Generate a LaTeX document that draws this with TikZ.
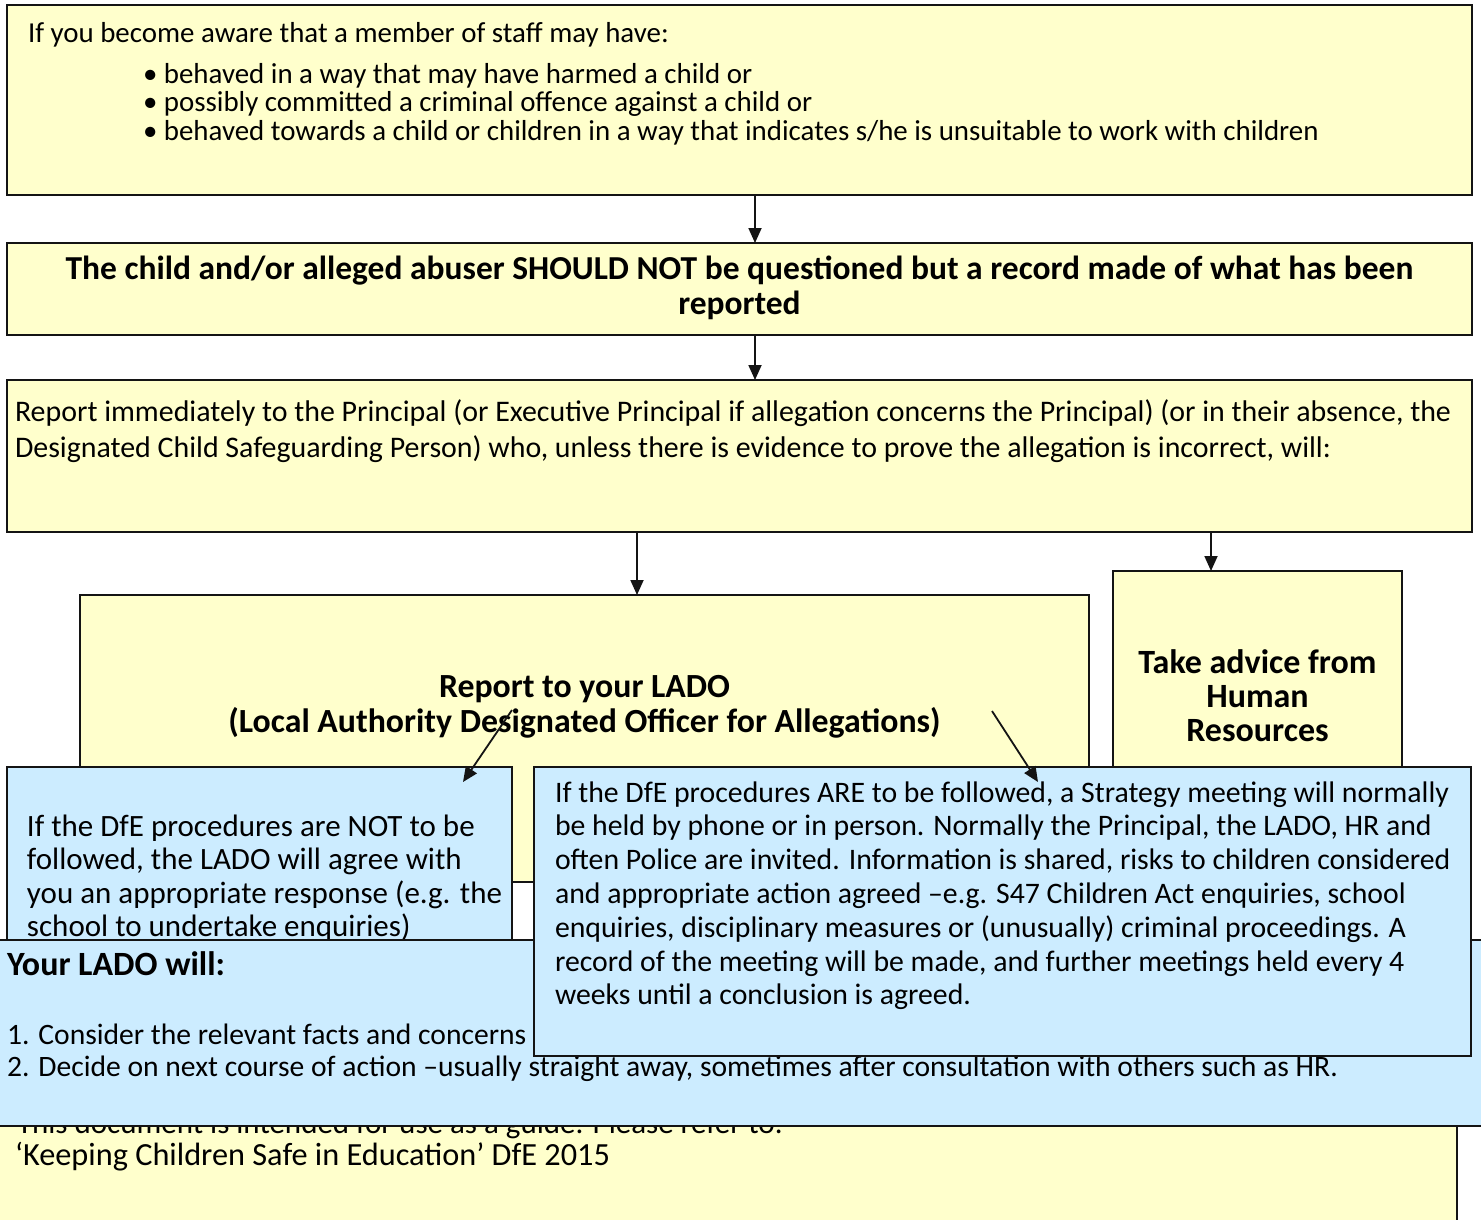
\documentclass[tikz,border=0pt]{standalone}
\usepackage{fontspec}
\setmainfont{Carlito}
\usetikzlibrary{arrows.meta}
\definecolor{yel}{RGB}{255,255,204}
\definecolor{blu}{RGB}{204,236,255}
\definecolor{edge}{RGB}{20,20,20}
\newcommand\LinesL[3]{\vtop{\fontsize{#1}{#2}\selectfont\halign{##\hfil\cr#3\crcr}}}
\newcommand\LinesC[3]{\vtop{\fontsize{#1}{#2}\selectfont\halign{\hfil##\hfil\cr#3\crcr}}}
\begin{document}
\begin{tikzpicture}[x=1pt,y=-1pt,
  box/.style={draw=edge, line width=1.8pt, inner sep=0pt, outer sep=0pt, anchor=north west},
  ybox/.style={box, fill=yel},
  bbox/.style={box, fill=blu},
  txt/.style={inner sep=0pt, outer sep=0pt, anchor=base west},
  ctxt/.style={inner sep=0pt, outer sep=0pt, anchor=base},
  arr/.style={draw=edge, line width=1.8pt, -{Triangle[length=15pt,width=13pt]}},
]
\useasboundingbox (0,0) rectangle (1481,1219);
\clip (0,0) rectangle (1481,1219);

% box 1
\node[ybox, minimum width=1465pt, minimum height=190pt] (b1) at (7,5) {};
\node[txt] (t1) at (28,42) {\fontsize{28.9}{28.9}\selectfont If you become aware that a member of staff may have:};
\node[txt] (t1b) at (143,83) {\LinesL{28.9}{28.5}{%
• behaved in a way that may have harmed a child or\cr
• possibly committed a criminal offence against a child or\cr
• behaved towards a child or children in a way that indicates s/he is unsuitable to work with children}};

% box 2
\node[ybox, minimum width=1465pt, minimum height=92pt] (b2) at (7,243) {};
\node[ctxt] (t2) at (739.5,279) {\LinesC{33.5}{35}{\bfseries The child and/or alleged abuser SHOULD NOT be questioned but a record made of what has been\cr
\bfseries reported}};

% box 3
\node[ybox, minimum width=1465pt, minimum height=152pt] (b3) at (7,380) {};
\node[txt] (t3) at (15,421) {\LinesL{29.9}{36}{%
Report immediately to the Principal (or Executive Principal if allegation concerns the Principal) (or in their absence, the\cr
Designated Child Safeguarding Person) who, unless there is evidence to prove the allegation is incorrect, will:}};

% LADO box
\node[ybox, minimum width=1009pt, minimum height=287pt] (lado) at (80,595) {};
\node[ctxt] (tl) at (584.5,697) {\LinesC{33.8}{35}{\bfseries Report to your LADO\cr
\bfseries (Local Authority Designated Officer for Allegations)}};

% HR box
\node[ybox, minimum width=289pt, minimum height=311pt] (hr) at (1113,571) {};
\node[ctxt] (th) at (1257.5,673) {\LinesC{34}{34}{\bfseries Take advice from\cr\bfseries Human\cr\bfseries Resources}};

% bottom box
\node[ybox, minimum width=1467pt, minimum height=160pt] (bot) at (-10,1090) {};
\node[txt] (tb1) at (17,1133) {\fontsize{31}{31}\selectfont This document is intended for use as a guide. Please refer to:};
\node[txt] (tb2) at (15,1165) {\fontsize{32.3}{32.3}\selectfont ‘Keeping Children Safe in Education’ DfE 2015};

% NOT box
\node[bbox, minimum width=505pt, minimum height=200pt] (not) at (7,767) {};
\node[txt] (tn) at (27,836) {\LinesL{31}{33.5}{%
If the DfE procedures are NOT to be\cr
followed, the LADO will agree with\cr
you an appropriate response (e.g. the\cr
school to undertake enquiries)}};

% Your LADO will box
\node[bbox, minimum width=1510pt, minimum height=186pt] (will) at (-10,940) {};
\node[txt] (tw0) at (7,975) {\fontsize{34}{34}\selectfont\bfseries Your LADO will:};
\node[txt] (tw) at (7,1044) {\LinesL{29.6}{32}{%
1. Consider the relevant facts and concerns raised.\cr
2. Decide on next course of action –usually straight away, sometimes after consultation with others such as HR.}};

% ARE box
\node[bbox, minimum width=937pt, minimum height=289pt] (are) at (534,767) {};
\node[txt] (ta) at (555,802) {\LinesL{29.77}{33.8}{%
If the DfE procedures ARE to be followed, a Strategy meeting will normally\cr
be held by phone or in person. Normally the Principal, the LADO, HR and\cr
often Police are invited. Information is shared, risks to children considered\cr
and appropriate action agreed –e.g. S47 Children Act enquiries, school\cr
enquiries, disciplinary measures or (unusually) criminal proceedings. A\cr
record of the meeting will be made, and further meetings held every 4\cr
weeks until a conclusion is agreed.}};

% connectors
\coordinate (x1) at (755,0);
\coordinate (x3) at (637,0);
\coordinate (x4) at (1211,0);
\coordinate (s5) at (512,710);
\coordinate (e5) at (463,782);
\coordinate (s6) at (992,711);
\coordinate (e6) at (1038,782);
\draw[arr] (b1.south -| x1) -- (b2.north -| x1);
\draw[arr] (b2.south -| x1) -- (b3.north -| x1);
\draw[arr] (b3.south -| x3) -- (lado.north -| x3);
\draw[arr] (b3.south -| x4) -- (hr.north -| x4);
\draw[arr] (s5) -- (e5);
\draw[arr] (s6) -- (e6);
\end{tikzpicture}
\end{document}
